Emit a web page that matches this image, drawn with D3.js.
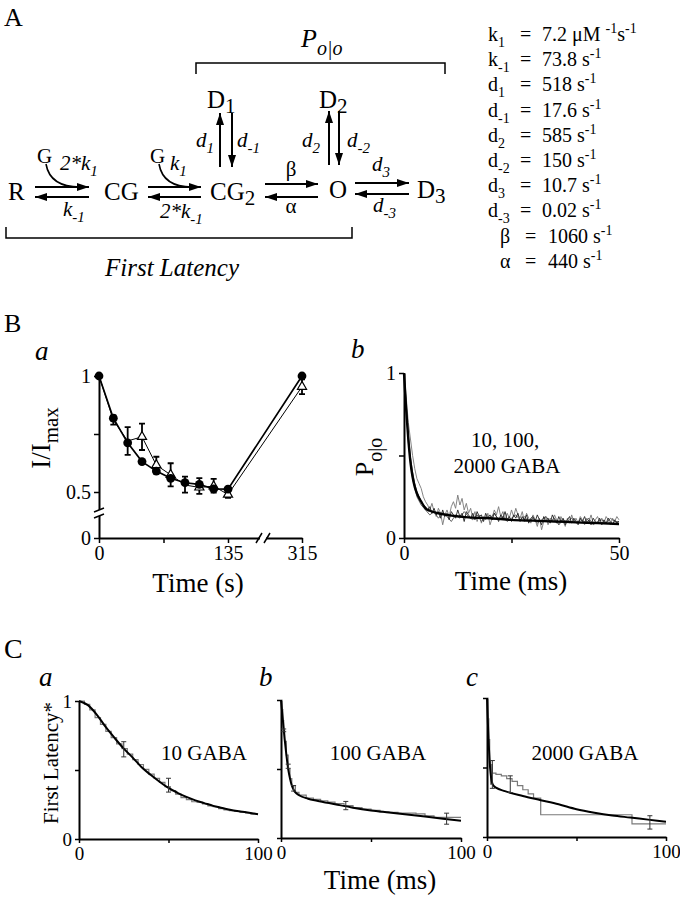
<!DOCTYPE html>
<html><head><meta charset="utf-8">
<script src="https://cdn.jsdelivr.net/npm/d3@7"></script>
<style>
body{margin:0;background:#fff}
svg{display:block}
text{font-family:"Liberation Serif","Tinos","Times New Roman",Times,serif;fill:#000}
</style>
</head><body>
<svg id="fig" width="680" height="900"></svg>
<script>
// ================= DATA =================
// Panel A: rate constants
const paramNames  = ["k","k","d","d","d","d","d","d","β","α"];
const paramSubs   = ["1","-1","1","-1","2","-2","3","-3","",""];
const paramValues = ["7.2","73.8","518","17.6","585","150","10.7","0.02","1060","440"];
const paramUnitsMain = ["μM ","s","s","s","s","s","s","s","s","s"];

// Panel Ba: I/Imax vs time
const baTimes       = [0,15,30,45,60,75,90,105,120,135,315];
const baCircle      = [1.0,0.818,0.712,0.631,0.59,0.559,0.54,0.533,0.513,0.512,1.0];
const baTriangle    = [1.0,0.81,0.72,0.738,0.616,0.574,0.53,0.52,0.525,0.473,0.954];
const baTriangleErr = [0,0.02,0.06,0.057,0.036,0.05,0.036,0.04,0.032,0.036,0.032];
const baXTicks = [0,67.5,135,315];
const baXTickLabels = ["0","","135","315"];
const baYTicks = [0,0.5,0.75,1];
const baYTickLabels = ["0","0.5","","1"];

// Panel Bb: Po|o
const bbFitT = [0,0.5,1,1.5,2,2.5,3,4,5,6,8,10,15,20,25,30,35,40,45,50];
const bbFitP = [1,0.78,0.6,0.46,0.37,0.31,0.27,0.22,0.18,0.165,0.15,0.14,0.125,0.12,0.11,0.105,0.1,0.095,0.09,0.085];
const bbTraceStep = 0.5;
const bbTrace10 = [1.0,0.82,0.63,0.49,0.4,0.33,0.28,0.25,0.22,0.2,0.19,
 0.17,0.19,0.15,0.18,0.14,0.16,0.12,0.17,0.13,0.15,
 0.11,0.16,0.14,0.12,0.17,0.13,0.15,0.1,0.16,0.14,
 0.12,0.15,0.11,0.16,0.13,0.14,0.1,0.15,0.12,0.14,
 0.11,0.15,0.13,0.1,0.14,0.12,0.16,0.11,0.13,0.1,
 0.14,0.12,0.15,0.1,0.13,0.11,0.14,0.09,0.12,0.13,
 0.1,0.14,0.11,0.08,0.13,0.1,0.12,0.09,0.14,0.11,
 0.09,0.13,0.1,0.12,0.08,0.11,0.13,0.09,0.12,0.1,
 0.08,0.12,0.1,0.13,0.09,0.11,0.08,0.12,0.1,0.09,
 0.12,0.08,0.11,0.09,0.12,0.1,0.08,0.11,0.09,0.1];
const bbTrace100 = [1.0,0.86,0.7,0.6,0.5,0.42,0.36,0.33,0.3,0.25,0.22,
 0.2,0.17,0.21,0.16,0.13,0.18,0.15,0.08,0.14,0.17,
 0.13,0.19,0.22,0.18,0.26,0.2,0.24,0.17,0.21,0.15,
 0.18,0.12,0.16,0.1,0.14,0.09,0.13,0.11,0.15,0.08,
 0.12,0.17,0.14,0.19,0.13,0.16,0.11,0.15,0.12,0.17,
 0.13,0.18,0.14,0.12,0.16,0.1,0.15,0.12,0.09,0.14,
 0.11,0.07,0.12,0.05,0.1,0.13,0.08,0.12,0.1,0.14,
 0.11,0.08,0.13,0.1,0.07,0.12,0.09,0.14,0.1,0.12,
 0.09,0.13,0.11,0.08,0.12,0.1,0.14,0.09,0.11,0.13,
 0.1,0.12,0.09,0.13,0.11,0.08,0.12,0.1,0.13,0.11];
const bbTrace2000Step = 1;
const bbTrace2000 = [1.0,0.58,0.36,0.25,0.2,0.17,0.14,0.16,0.12,0.15,
 0.13,0.1,0.14,0.12,0.16,0.13,0.11,0.14,0.1,0.13,
 0.12,0.15,0.11,0.13,0.1,0.12,0.14,0.11,0.13,0.1,
 0.12,0.09,0.11,0.13,0.1,0.12,0.08,0.11,0.1,0.12,
 0.09,0.11,0.1,0.12,0.08,0.1,0.11,0.09,0.12,0.1,0.1];

// Panel C: first latency (fit + measured step trace + error bars)
const caFitT  = [0,5,10,15,20,25,30,35,40,45,50,55,60,65,70,75,80,85,90,95,100];
const caFitV  = [1,0.97,0.9,0.81,0.73,0.655,0.59,0.52,0.465,0.415,0.37,0.335,0.305,0.28,0.26,0.24,0.225,0.21,0.2,0.19,0.18];
const caStepT = [0,3,6,9,12,15,18,21,24,27,30,33,36,39,42,45,48,51,54,57,60,63,66,69,72,75,78,81,84,87,90,93,96,100];
const caStepV = [1,0.975,0.935,0.88,0.83,0.78,0.735,0.69,0.655,0.615,0.575,0.54,0.505,0.47,0.44,0.41,0.38,0.35,0.325,0.3,0.285,0.27,0.265,0.255,0.24,0.235,0.22,0.21,0.205,0.2,0.195,0.19,0.18,0.18];
const caErrT  = [25,50];
const caErrV  = [0.65,0.39];
const caErrE  = [0.055,0.05];

const cbFitT  = [0,1,2,3,4,5,6,7,8,10,15,20,30,40,50,60,70,80,90,100];
const cbFitV  = [1,0.86,0.72,0.6,0.5,0.43,0.38,0.35,0.33,0.31,0.285,0.27,0.245,0.22,0.2,0.185,0.17,0.155,0.14,0.125];
const cbStepT = [0,0.5,1,1.5,2,3,4,5,6,8,10,14,18,22,26,30,35,40,45,50,55,60,65,70,75,80,85,90,95,100];
const cbStepV = [1,0.93,0.85,0.78,0.7,0.6,0.5,0.43,0.38,0.33,0.31,0.29,0.28,0.27,0.26,0.25,0.235,0.22,0.21,0.2,0.19,0.185,0.18,0.18,0.175,0.16,0.15,0.15,0.15,0.15];
const cbErrT  = [1.5,4,7,36,92];
const cbErrV  = [0.78,0.52,0.36,0.235,0.14];
const cbErrE  = [0.01,0.015,0.02,0.03,0.04];

const ccFitT  = [0,0.5,1,1.5,2,2.5,3,4,5,10,20,30,40,50,60,70,80,90,100];
const ccFitV  = [1,0.82,0.66,0.54,0.46,0.41,0.385,0.365,0.355,0.33,0.295,0.265,0.235,0.2,0.175,0.155,0.14,0.125,0.11];
const ccStepT = [0,0.5,1,1.5,2,2.5,3,5,8,11,14,17,20,23,26,30,81,100];
const ccStepV = [1,0.85,0.7,0.55,0.38,0.52,0.46,0.45,0.44,0.42,0.4,0.37,0.34,0.31,0.28,0.16,0.095,0.095];
const ccErrT  = [3,13,91];
const ccErrV  = [0.45,0.38,0.105];
const ccErrE  = [0.1,0.06,0.048];

const cXTicks = [0,50,100];
const cXTickLabels = ["0","","100"];
const cYTicks = [0,0.5,1];
const cYTickLabels = ["0","","1"];

// ================= DRAWING =================
const FONT = '"Liberation Serif","Tinos","Times New Roman",Times,serif';
const svg = d3.select("#fig");
const defs = svg.append("defs");
defs.append("marker").attr("id","ah").attr("viewBox","0 0 12 8")
  .attr("refX",12).attr("refY",4).attr("markerWidth",12).attr("markerHeight",8)
  .attr("markerUnits","userSpaceOnUse").attr("orient","auto")
  .append("path").attr("d","M0,0 L12,4 L0,8 Z").attr("fill","#000");

function rich(parent, x, y, parts, o) {
  const t = parent.append("text").attr("x", x).attr("y", y)
    .attr("font-family", FONT)
    .attr("font-size", o.size).attr("text-anchor", o.anchor || "start");
  if (o.italic) t.attr("font-style", "italic");
  if (o.transform) t.attr("transform", o.transform);
  let shift = 0;
  parts.forEach(p => {
    const [s, type] = Array.isArray(p) ? p : [p, ""];
    const target = type === "sub" ? (o.subDy || 6) : type === "sup" ? -(o.supDy || 8) : 0;
    const ts = t.append("tspan").text(s);
    if (target - shift !== 0) ts.attr("dy", target - shift);
    if (type) ts.attr("font-size", o.subSize || o.size * 0.75);
    shift = target;
  });
  return t;
}
function label(parent, x, y, s, size, o) {
  o = o || {};
  const t = parent.append("text").attr("x",x).attr("y",y).attr("font-family",FONT).attr("font-size",size).text(s);
  if (o.italic) t.attr("font-style","italic");
  if (o.anchor) t.attr("text-anchor",o.anchor);
  if (o.transform) t.attr("transform",o.transform);
  return t;
}

// ---------- Panel A ----------
const gA = svg.append("g");
label(gA, 4, 26, "A", 26);

// states
const stSize = 25;
[
  [["R"], 8, 200], [["CG"], 104, 200], [["CG",["2","sub"]], 210, 200],
  [["O"], 329, 198], [["D",["3","sub"]], 417, 198],
  [["D",["1","sub"]], 207, 108], [["D",["2","sub"]], 319, 108]
].forEach(([parts,x,y]) => rich(gA, x, y, parts, {size:stSize, subSize:21, subDy:5}));

// arrows
const arrowStyle = sel => sel.attr("stroke","#000").attr("stroke-width",2).attr("marker-end","url(#ah)");
[
  [35,187,89,187],[89,197,35,197],
  [148,187,201,187],[201,197,148,197],
  [265,184,318,184],[318,197,265,197],
  [355,183,409,183],[409,194,355,194],
  [220,167,220,113],[232,113,232,167],
  [329,165,329,111],[339,111,339,165]
].forEach(([x1,y1,x2,y2]) => gA.append("line").attr("x1",x1).attr("y1",y1).attr("x2",x2).attr("y2",y2).call(arrowStyle));
// binding curves
gA.append("path").attr("d","M46,164 Q50,187 80,187").attr("fill","none").attr("stroke","#000").attr("stroke-width",1.6);
gA.append("path").attr("d","M159,164 Q163,187 192,187").attr("fill","none").attr("stroke","#000").attr("stroke-width",1.6);
label(gA, 37, 163, "G", 21);
label(gA, 150, 163, "G", 21);

const rl = {size:21, italic:true, subSize:15, subDy:6};
rich(gA, 60, 170, ["2*k",["1","sub"]], rl);
rich(gA, 63, 216, ["k",["-1","sub"]], rl);
rich(gA, 170, 170, ["k",["1","sub"]], rl);
rich(gA, 160, 218, ["2*k",["-1","sub"]], rl);
label(gA, 291, 176, "β", 21, {anchor:"middle"});
label(gA, 291, 213, "α", 21, {anchor:"middle"});
rich(gA, 196, 147, ["d",["1","sub"]], rl);
rich(gA, 237, 147, ["d",["-1","sub"]], rl);
rich(gA, 302, 147, ["d",["2","sub"]], rl);
rich(gA, 347, 147, ["d",["-2","sub"]], rl);
rich(gA, 372, 171, ["d",["3","sub"]], rl);
rich(gA, 373, 212, ["d",["-3","sub"]], rl);

// brackets
gA.append("path").attr("d","M196,74 V63 H445 V74").attr("fill","none").attr("stroke","#000").attr("stroke-width",1.5);
gA.append("path").attr("d","M6,227 V238 H352 V227").attr("fill","none").attr("stroke","#000").attr("stroke-width",1.5);
rich(gA, 301, 47, ["P",["o|o","sub"]], {size:26, italic:true, subSize:20, subDy:8});
label(gA, 172, 276, "First Latency", 25, {italic:true, anchor:"middle"});

// parameter list
const gP = gA.append("g");
paramNames.forEach((n,i) => {
  const y = 41 + i*25.2;
  const greek = paramSubs[i] === "";
  rich(gP, greek ? 500 : 488, y, [n, [paramSubs[i],"sub"]], {size:20, subSize:14, subDy:6});
  label(gP, greek ? 525 : 520, y, "=", 20);
  const parts = [paramValues[i] + " " + paramUnitsMain[i]];
  if (i === 0) { parts.push(["-1","sup"]); parts.push("s"); }
  parts.push(["-1","sup"]);
  rich(gP, greek ? 548 : 542, y, parts, {size:20, subSize:14, supDy:8});
});

// ---------- common axis styling ----------
function styleAxis(g, fs) {
  g.attr("font-family", FONT).attr("font-size", fs || 20);
  g.select(".domain").attr("stroke-width", 2);
  g.selectAll(".tick line").attr("stroke-width", 1.5);
  g.selectAll(".tick text").attr("fill","#000");
}

// ---------- Panel B ----------
label(svg, 4, 332, "B", 26);
label(svg, 35, 360, "a", 27, {italic:true});
label(svg, 351, 358, "b", 27, {italic:true});

// Ba
const xBa = d3.scaleLinear().domain([0,135,315]).range([99,228,302]);
const yBa = d3.scaleLinear().domain([0,0.5,1]).range([538,492,376]);
const gBa = svg.append("g");
gBa.append("g").attr("transform",`translate(0,${yBa(0)})`)
  .call(d3.axisBottom(xBa).tickValues(baXTicks).tickFormat((d,i)=>baXTickLabels[i]).tickSizeInner(5).tickSizeOuter(0).tickPadding(3))
  .call(g => styleAxis(g));
gBa.append("g").attr("transform",`translate(${xBa(0)},0)`)
  .call(d3.axisLeft(yBa).tickValues(baYTicks).tickFormat((d,i)=>baYTickLabels[i]).tickSizeInner(5).tickSizeOuter(0).tickPadding(3))
  .call(g => styleAxis(g));
// axis breaks
const xBrk = (xBa(135)+xBa(315))/2 - 2, yBrk = (yBa(0)+yBa(0.5))/2 - 2;
gBa.append("rect").attr("x",xBrk-3).attr("y",yBa(0)-4).attr("width",6).attr("height",8).attr("fill","#fff");
gBa.append("path").attr("d",`M${xBrk-7},${yBa(0)+5} L${xBrk-1},${yBa(0)-5} M${xBrk+1},${yBa(0)+5} L${xBrk+7},${yBa(0)-5}`).attr("stroke","#000").attr("stroke-width",1.5);
gBa.append("rect").attr("x",xBa(0)-4).attr("y",yBrk-3).attr("width",8).attr("height",6).attr("fill","#fff");
gBa.append("path").attr("d",`M${xBa(0)-5},${yBrk-1} L${xBa(0)+5},${yBrk-5} M${xBa(0)-5},${yBrk+5} L${xBa(0)+5},${yBrk+1}`).attr("stroke","#000").attr("stroke-width",1.5);

// error bars (triangle series)
baTimes.forEach((t,i) => {
  const e = baTriangleErr[i]; if (!e) return;
  const x = xBa(t), y1 = yBa(baTriangle[i]-e), y2 = yBa(baTriangle[i]+e);
  gBa.append("path").attr("d",`M${x},${y1} V${y2} M${x-3},${y1} H${x+3} M${x-3},${y2} H${x+3}`)
    .attr("stroke","#000").attr("stroke-width",1.8).attr("fill","none");
});
const lineBa = vals => d3.line().x((d,i)=>xBa(baTimes[i])).y(d=>yBa(d))(vals);
gBa.append("path").attr("d",lineBa(baTriangle)).attr("fill","none").attr("stroke","#000").attr("stroke-width",1);
gBa.append("path").attr("d",lineBa(baCircle)).attr("fill","none").attr("stroke","#000").attr("stroke-width",1.7);
const tri = d3.symbol().type(d3.symbolTriangle).size(36);
baTimes.forEach((t,i) => {
  // triangles fully hidden behind coincident filled circles are not drawn
  if (Math.abs(baTriangle[i] - baCircle[i]) < 0.012) return;
  gBa.append("path").attr("d",tri()).attr("transform",`translate(${xBa(t)},${yBa(baTriangle[i])})`)
    .attr("fill","#fff").attr("stroke","#000").attr("stroke-width",1.2);
});
baTimes.forEach((t,i) => {
  gBa.append("circle").attr("cx",xBa(t)).attr("cy",yBa(baCircle[i])).attr("r",4.4).attr("fill","#000");
});
rich(gBa, 0, 0, ["I/I",["max","sub"]], {size:27, subSize:21, subDy:8, anchor:"middle", transform:"translate(50,438) rotate(-90)"});
label(gBa, 198, 592, "Time (s)", 27, {anchor:"middle"});

// Bb
const xBb = d3.scaleLinear().domain([0,50]).range([404,619]);
const yBb = d3.scaleLinear().domain([0,1]).range([538,373]);
const gBb = svg.append("g");
gBb.append("g").attr("transform",`translate(0,${yBb(0)})`)
  .call(d3.axisBottom(xBb).tickValues([0,25,50]).tickFormat(d=> d===25?"":d).tickSizeInner(5).tickSizeOuter(0).tickPadding(3))
  .call(g => styleAxis(g));
gBb.append("g").attr("transform",`translate(${xBb(0)},0)`)
  .call(d3.axisLeft(yBb).tickValues([0,0.5,1]).tickFormat(d=> d===0.5?"":d).tickSizeInner(5).tickSizeOuter(0).tickPadding(3))
  .call(g => styleAxis(g));
const traceLine = (vals, step) => d3.line().x((d,i)=>xBb(i*step)).y(d=>yBb(d))(vals);
gBb.append("path").attr("d",traceLine(bbTrace100,bbTraceStep)).attr("fill","none").attr("stroke","#777").attr("stroke-width",0.9);
gBb.append("path").attr("d",traceLine(bbTrace2000,bbTrace2000Step)).attr("fill","none").attr("stroke","#555").attr("stroke-width",0.9);
gBb.append("path").attr("d",traceLine(bbTrace10,bbTraceStep)).attr("fill","none").attr("stroke","#222").attr("stroke-width",0.9);
gBb.append("path").attr("d",d3.line().x((d,i)=>xBb(bbFitT[i])).y(d=>yBb(d)).curve(d3.curveMonotoneX)(bbFitP))
  .attr("fill","none").attr("stroke","#000").attr("stroke-width",2.4);
rich(gBb, 0, 0, ["P",["o|o","sub"]], {size:26, subSize:20, subDy:9, anchor:"middle", transform:"translate(373,457) rotate(-90)"});
label(gBb, 505, 447, "10, 100,", 21, {anchor:"middle"});
label(gBb, 507, 473, "2000 GABA", 21, {anchor:"middle"});
label(gBb, 511, 590, "Time (ms)", 27, {anchor:"middle"});

// ---------- Panel C ----------
label(svg, 4, 658, "C", 28);
function drawC(cfg) {
  const x = d3.scaleLinear().domain([0,100]).range(cfg.xr);
  const y = d3.scaleLinear().domain([0,1]).range(cfg.yr);
  const g = svg.append("g");
  g.append("g").attr("transform",`translate(0,${y(0)})`)
    .call(d3.axisBottom(x).tickValues(cXTicks).tickFormat((d,i)=>cXTickLabels[i]).tickSizeInner(4).tickSizeOuter(0).tickPadding(4))
    .call(gg => styleAxis(gg, 19));
  g.append("g").attr("transform",`translate(${x(0)},0)`)
    .call(d3.axisLeft(y).tickValues(cYTicks).tickFormat((d,i)=> cfg.yLabels ? cYTickLabels[i] : "").tickSizeInner(4).tickSizeOuter(0).tickPadding(3))
    .call(gg => styleAxis(gg, 19));
  g.append("path").attr("d", d3.line().x((d,i)=>x(cfg.stepT[i])).y(d=>y(d)).curve(d3.curveStepAfter)(cfg.stepV))
    .attr("fill","none").attr("stroke","#7a7a7a").attr("stroke-width",1.2);
  g.append("path").attr("d", d3.line().x((d,i)=>x(cfg.fitT[i])).y(d=>y(d)).curve(d3.curveMonotoneX)(cfg.fitV))
    .attr("fill","none").attr("stroke","#000").attr("stroke-width",2);
  cfg.errT.forEach((t,i) => {
    const xx = x(t), y1 = y(cfg.errV[i]-cfg.errE[i]), y2 = y(cfg.errV[i]+cfg.errE[i]);
    g.append("path").attr("d",`M${xx},${y1} V${y2} M${xx-2.5},${y1} H${xx+2.5} M${xx-2.5},${y2} H${xx+2.5}`)
      .attr("stroke","#333").attr("stroke-width",1).attr("fill","none");
  });
  label(g, cfg.label[1], 760, cfg.label[0], 21, {anchor:"middle"});
  label(g, cfg.letter[1], 686, cfg.letter[0], 27, {italic:true});
}
drawC({xr:[79,258], yr:[839,701], fitT:caFitT, fitV:caFitV, stepT:caStepT, stepV:caStepV, errT:caErrT, errV:caErrV, errE:caErrE, yLabels:true, label:["10 GABA",204], letter:["a",39]});
drawC({xr:[281,461], yr:[838,700], fitT:cbFitT, fitV:cbFitV, stepT:cbStepT, stepV:cbStepV, errT:cbErrT, errV:cbErrV, errE:cbErrE, yLabels:false, label:["100 GABA",378], letter:["b",259]});
drawC({xr:[487,666], yr:[837,698], fitT:ccFitT, fitV:ccFitV, stepT:ccStepT, stepV:ccStepV, errT:ccErrT, errV:ccErrV, errE:ccErrE, yLabels:false, label:["2000 GABA",585], letter:["c",466]});
label(svg, 0, 0, "First Latency*", 21, {anchor:"middle", transform:"translate(58,763) rotate(-90)"});
label(svg, 380, 889, "Time (ms)", 27, {anchor:"middle"});
</script>
</body></html>
